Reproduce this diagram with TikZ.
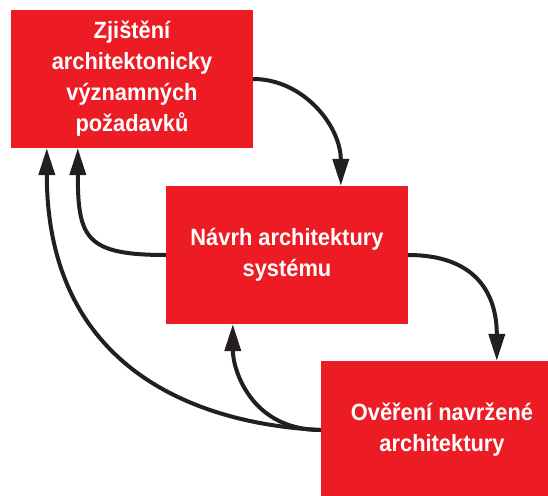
\documentclass[tikz,border=0pt]{standalone}
\usepackage{fontspec}
\setmainfont{Liberation Sans}[FakeStretch=0.93]
\usetikzlibrary{arrows.meta,calc}
\definecolor{cervena}{HTML}{ED1C24}
\definecolor{cerna}{HTML}{231F20}
\begin{document}
\begin{tikzpicture}[x=1pt, y=-1pt,
    blok/.style={fill=cervena, text=white, minimum width=242pt, minimum height=138pt, inner sep=0pt,
      align=center, font=\bfseries\fontsize{23.5}{31}\selectfont},
    sip/.style={line width=4pt, draw=cerna, -{Triangle[length=27pt, width=16pt]}},
]
\useasboundingbox (0,0) rectangle (548,495);
\clip (0,0) rectangle (548,495);

\node[blok] (zjisteni) at (132,79) {Zjištění\\architektonicky\\významných\\požadavků};
\node[blok] (navrh) at (287,255) {Návrh architektury\\systému};
\node[blok] (overeni) at (442,430) {Ověření navržené\\architektury};

\coordinate (N1) at ($(navrh.north west)+(175,0)$);
\coordinate (O1) at ($(overeni.north west)+(176,0)$);
\coordinate (N2) at ($(navrh.south west)+(67,0)$);
\coordinate (Z1) at ($(zjisteni.south west)+(36,0)$);
\coordinate (Z2) at ($(zjisteni.south west)+(67,0)$);

\draw[sip] (zjisteni.east) .. controls +(50,0) and +(0,-60) .. (N1);
\draw[sip] (navrh.east) .. controls +(65,0) and +(0,-70) .. (O1);
\draw[sip] (overeni.west) .. controls +(-70,0) and +(0,45) .. (N2);
\draw[sip] (overeni.west) .. controls +(-125,-6) and +(0,220) .. (Z1);
\draw[sip] (navrh.west) .. controls +(-80,0) and +(0,90) .. (Z2);

\end{tikzpicture}
\end{document}
